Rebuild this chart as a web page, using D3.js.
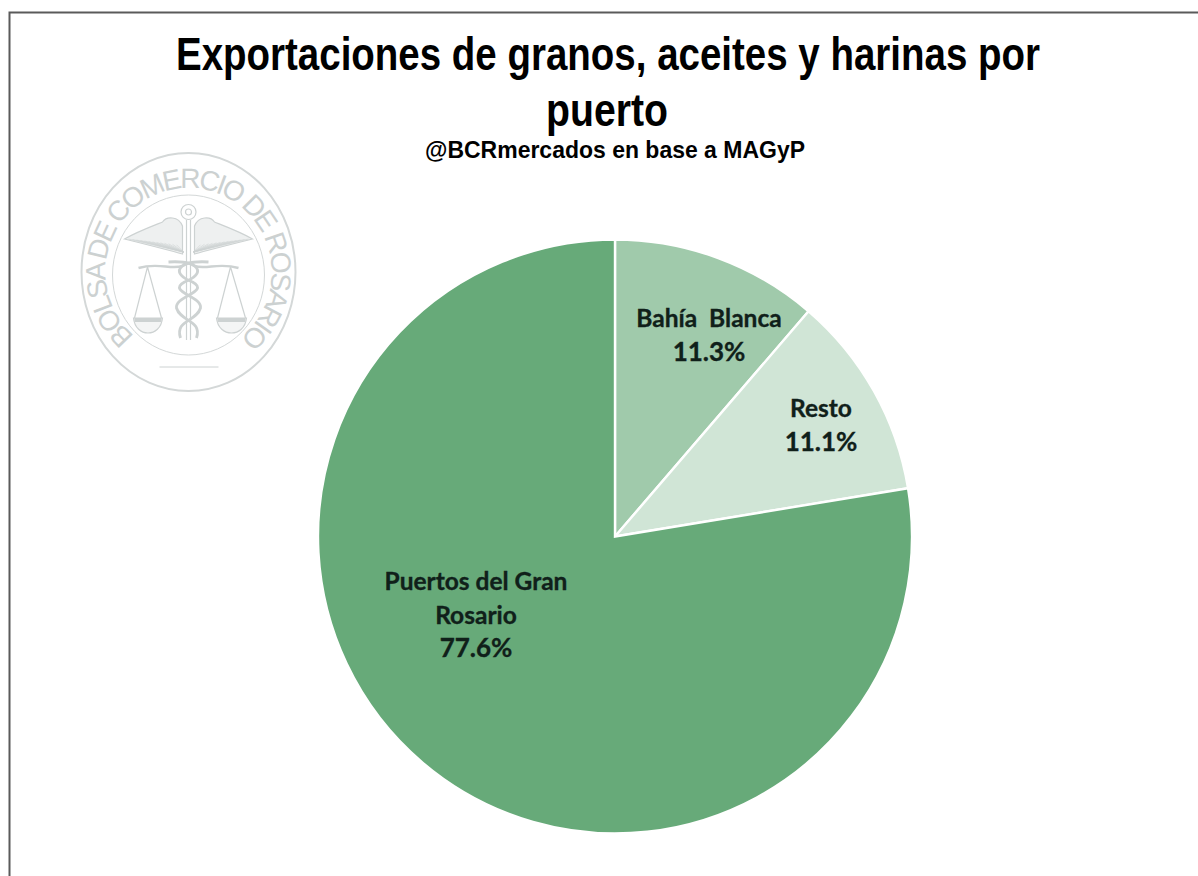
<!DOCTYPE html>
<html><head><meta charset="utf-8">
<script src="https://cdn.jsdelivr.net/npm/d3@7/dist/d3.min.js"></script>
<style>html,body{margin:0;padding:0;background:#fff}svg{display:block}text{white-space:pre}</style>
</head><body><svg id="c" width="1198" height="876"></svg>
<script>
const categories = ["Bahía Blanca", "Resto", "Puertos del Gran Rosario"];
const values = [11.3, 11.1, 77.6];
const colors = ["#a0caab", "#d0e5d6", "#67aa79"];
const labelLines = [["Bahía  Blanca"], ["Resto"], ["Puertos del Gran", "Rosario"]];
const labelPos = [[709, 319], [821, 409], [476, 582]];
const titleLines = ["Exportaciones de granos, aceites y harinas por", "puerto"];
const subtitle = "@BCRmercados en base a MAGyP";
const sealText = "BOLSA DE COMERCIO DE ROSARIO";

const svg = d3.select("#c");
svg.append("path").attr("d","M9.5,876V12.5H1198").attr("fill","none").attr("stroke","#5a5a5a").attr("stroke-width",2);

// titles
const titleFont = "'Liberation Sans',sans-serif";
svg.append("text").attr("x",608).attr("y",70).attr("text-anchor","middle")
  .attr("font-family",titleFont).attr("font-weight",700).attr("font-size",47)
  .attr("textLength",864).attr("lengthAdjust","spacingAndGlyphs").text(titleLines[0]);
svg.append("text").attr("x",607).attr("y",126).attr("text-anchor","middle")
  .attr("font-family",titleFont).attr("font-weight",700).attr("font-size",47)
  .attr("textLength",122).attr("lengthAdjust","spacingAndGlyphs").text(titleLines[1]);
svg.append("text").attr("x",615).attr("y",158).attr("text-anchor","middle")
  .attr("font-family",titleFont).attr("font-weight",700).attr("font-size",24)
  .attr("textLength",380).attr("lengthAdjust","spacingAndGlyphs").text(subtitle);

// seal
const sx = 188.5, sy = 272;
const seal = svg.append("g").attr("transform",`translate(${sx},${sy})`).attr("fill","none").attr("stroke","#d4d8d8");
seal.append("ellipse").attr("rx",107).attr("ry",119).attr("stroke-width",2);
seal.append("ellipse").attr("cy",3).attr("rx",76).attr("ry",80).attr("stroke-width",1);
const bx = 83, by = 84;
const startA = Math.asin(-54/bx), endA = Math.asin(52/bx);
const p = (x,y)=>[x.toFixed(1),y.toFixed(1)].join(",");
const arcD = `M${p(sx+bx*Math.sin(startA), sy+by*Math.cos(startA))} A${bx},${by} 0 1 1 ${p(sx+bx*Math.sin(endA), sy+by*Math.cos(endA))}`;
svg.append("defs").append("path").attr("id","sealArc").attr("d",arcD);
const sealT = svg.append("text").attr("font-family","'Liberation Sans',sans-serif").attr("font-size",28).attr("fill","#ccd1d1");
sealT.append("textPath").attr("href","#sealArc").text(sealText);
const arcLen = d3.select("#sealArc").node().getTotalLength();
const base = sealT.node().getComputedTextLength();
sealT.attr("letter-spacing", ((arcLen-base-2)/sealText.length).toFixed(2));

const gs = seal.append("g").attr("stroke","#cdd2d2").attr("stroke-width",1.2);
gs.append("circle").attr("cy",-60).attr("r",7.5);
gs.append("circle").attr("cy",-60).attr("r",3);
gs.append("path").attr("d","M-2,-52V68M2,-52V68");
gs.append("path").attr("d","M-6,-46C-10,-56 -22,-56 -26,-50C-36,-46 -52,-40 -64,-33C-44,-28 -20,-22 -6,-18Z M6,-46C10,-56 22,-56 26,-50C36,-46 52,-40 64,-33C44,-28 20,-22 6,-18Z").attr("fill","#eef0f0");
d3.range(-60,-8,4).forEach(x=>{
  gs.append("path").attr("d",`M${x},${-33+(x+60)*0.12}L${-5},-20M${-x},${-33+(x+60)*0.12}L5,-20`).attr("stroke-width",.6);
});
gs.append("path").attr("d","M-50,-4C-30,-10 -18,-2 -6,-6M50,-4C30,-10 18,-2 6,-6").attr("stroke-width",2.4);
gs.append("path").attr("d","M-41,-5L-54,46M-41,-5L-27,46M42,-5L29,46M42,-5L57,46");
gs.append("path").attr("d","M-55,46H-26C-28,66 -53,66 -55,46ZM28,46H58C56,66 30,66 28,46Z").attr("fill","#f4f5f5");
gs.append("path").attr("d","M-54,48H-27M29,48H57").attr("stroke-width",4);
gs.append("path").attr("d","M-20,-10C12,-12 18,2 -4,10C-22,20 14,24 12,36C8,50 -14,48 -8,66").attr("stroke-width",2.8);
gs.append("path").attr("d","M20,-10C-12,-12 -18,2 4,10C22,20 -14,24 -12,36C-8,50 14,48 8,66").attr("stroke-width",2.8);
gs.append("path").attr("d","M-29,95H30").attr("stroke-width",1);

// pie
const cx = 615, cy = 536.5, r = 297;
const pie = d3.pie().sort(null).value(d=>d)(values);
const arc = d3.arc().innerRadius(0).outerRadius(r);
svg.append("g").attr("transform",`translate(${cx},${cy})`).selectAll("path").data(pie).join("path")
  .attr("d",arc).attr("fill",(d,i)=>colors[i]).attr("stroke","#fff").attr("stroke-width",2.4);

// labels
const lab = svg.append("g").attr("font-family","Lato,'Open Sans',sans-serif").attr("font-weight",700)
  .attr("font-size",24.5).attr("fill","#10201a").attr("stroke","#10201a").attr("stroke-width",0.35).attr("text-anchor","middle");
values.forEach((v,i)=>{
  const lines = labelLines[i].concat(v.toFixed(1)+"%");
  const t = lab.append("text");
  lines.forEach((l,j)=>t.append("tspan").attr("x",labelPos[i][0]).attr("y",labelPos[i][1]+j*33.5+8)
    .attr("font-size",j===lines.length-1?26:null).text(l));
});
</script></body></html>
